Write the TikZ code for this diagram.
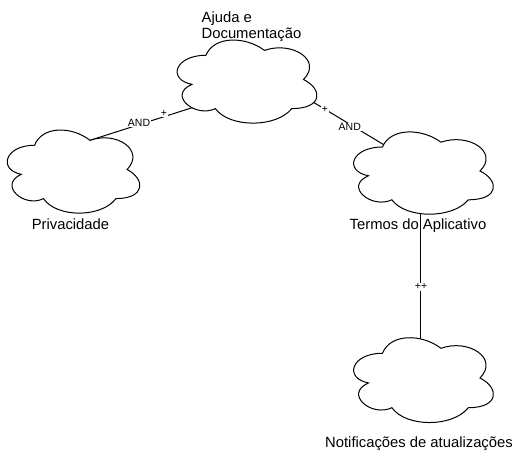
\documentclass[tikz,border=0pt]{standalone}
\usepackage{fontspec}
\setmainfont{Liberation Sans}
\newcommand{\drawiocloud}[3]{%
  \begin{scope}[shift={(#1.center)},x=#2pt,y=-#3pt]
    \draw[cloudline] (-0.25,-0.25)
      .. controls (-0.45,-0.25) and (-0.5,0) .. (-0.34,0.05)
      .. controls (-0.5,0.16) and (-0.32,0.4) .. (-0.19,0.3)
      .. controls (-0.1,0.5) and (0.2,0.5) .. (0.3,0.3)
      .. controls (0.5,0.3) and (0.5,0.1) .. (0.375,0)
      .. controls (0.5,-0.2) and (0.3,-0.4) .. (0.125,-0.3)
      .. controls (0,-0.45) and (-0.2,-0.45) .. (-0.25,-0.25) -- cycle;
  \end{scope}}
\begin{document}
\begin{tikzpicture}[x=1pt,y=-1pt,
  cloudline/.style={draw=black,line width=1pt,fill=white},
  cloudbox/.style={draw=none,rectangle,inner sep=0pt},
  lbl/.style={font=\fontsize{14.8}{16.5}\selectfont,inner sep=0pt,align=left},
  conn/.style={line width=1pt,draw=black},
  small/.style={font=\fontsize{10.5}{12}\selectfont,fill=white,inner sep=0.8pt}]
\useasboundingbox (0,0) rectangle (523,470);
% invisible frames of the clouds
\node[cloudbox,minimum width=156pt,minimum height=97pt] (ajuda) at (245,79.5) {};
\node[cloudbox,minimum width=148pt,minimum height=97pt] (priv) at (71.6,169.5) {};
\node[cloudbox,minimum width=156pt,minimum height=96pt] (termos) at (421.5,171) {};
\node[cloudbox,minimum width=156pt,minimum height=99pt] (notif) at (421.5,378) {};
% connectors (ends hidden under the clouds)
\draw[conn] ([shift={(-35,22.5)}]ajuda.center) --
  node[small,pos=0.546,yshift=1.7pt] {AND}
  node[small,pos=0.354,yshift=3.7pt] {+}
  ([shift={(8.4,-26)}]priv.center);
\draw[conn] ([shift={(55,14.7)}]ajuda.center) --
  node[small,pos=0.25] {+}
  node[small,pos=0.5,yshift=-2.8pt] {AND}
  ([shift={(-22,-16.8)}]termos.center);
\draw[conn] ([xshift=-1.5pt]termos.center) --
  node[small,pos=0.56,xshift=1pt] {++}
  ([xshift=-1.5pt]notif.center);
% clouds
\drawiocloud{ajuda}{156}{97}
\drawiocloud{priv}{148}{97}
\drawiocloud{termos}{156}{96}
\drawiocloud{notif}{156}{99}
% labels
\node[lbl,anchor=north west] (tajuda) at (201.5,11.5) {Ajuda e\\Documentação};
\node[lbl,anchor=base] (tpriv) at (70.5,229.5) {Privacidade};
\node[lbl,anchor=base] (ttermos) at (418,229.5) {Termos do Aplicativo};
\node[lbl,anchor=base] (tnotif) at (419,448) {Notificações de atualizações};
\end{tikzpicture}
\end{document}
